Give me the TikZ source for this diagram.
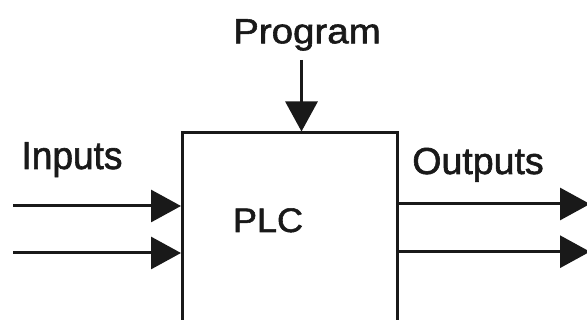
\documentclass[tikz,border=0pt]{standalone}
\usepackage{fontspec}
\usepackage{graphicx}
\setmainfont[FakeBold=1.6,BoldFont={Liberation Sans}]{Liberation Sans}
\usetikzlibrary{arrows.meta}
\begin{document}
\begin{tikzpicture}[x=1pt,y=-1pt,
  line/.style={line width=3pt, draw=black!90},
  arr/.style={line, -{Triangle[length=30pt,width=32pt]}},
  lbl/.style={anchor=base, inner sep=0pt, text=black!90}]
\useasboundingbox (0,0) rectangle (587,320);
\clip (0,0) rectangle (587,320);
\fill[white] (0,0) rectangle (587,320);
% PLC box (runs off the bottom edge)
\node[line, rectangle, minimum width=214.5pt, minimum height=207pt, inner sep=0pt] (plc) at (289.75,236.5) {};
% labels
\node[lbl, font=\fontsize{35}{36}\selectfont\bfseries] (prog) at (307,43.3) {\scalebox{1.1}[1]{Program}};
\node[lbl, font=\fontsize{39}{40}\selectfont\bfseries] (inp) at (72,169) {\scalebox{0.95}[1]{Inputs}};
\node[lbl, font=\fontsize{37.5}{38}\selectfont\bfseries] (outp) at (478,174) {\scalebox{1.0}[1]{Outputs}};
\node[lbl, font=\fontsize{34}{35}\selectfont\bfseries] (plclabel) at (268,232) {\scalebox{1.06}[1]{PLC}};
% connector ends
\coordinate (pin) at (301.5,60);
\coordinate (in1) at (13,206);
\coordinate (in2) at (13,253);
\coordinate (out1) at (590,204);
\coordinate (out2) at (590,251.7);
% connectors
\draw[arr] (pin) -- (pin |- plc.north);
\draw[arr] (in1) -- (in1 -| plc.west);
\draw[arr] (in2) -- (in2 -| plc.west);
\draw[arr] (out1 -| plc.east) -- (out1);
\draw[arr] (out2 -| plc.east) -- (out2);
\end{tikzpicture}
\end{document}
